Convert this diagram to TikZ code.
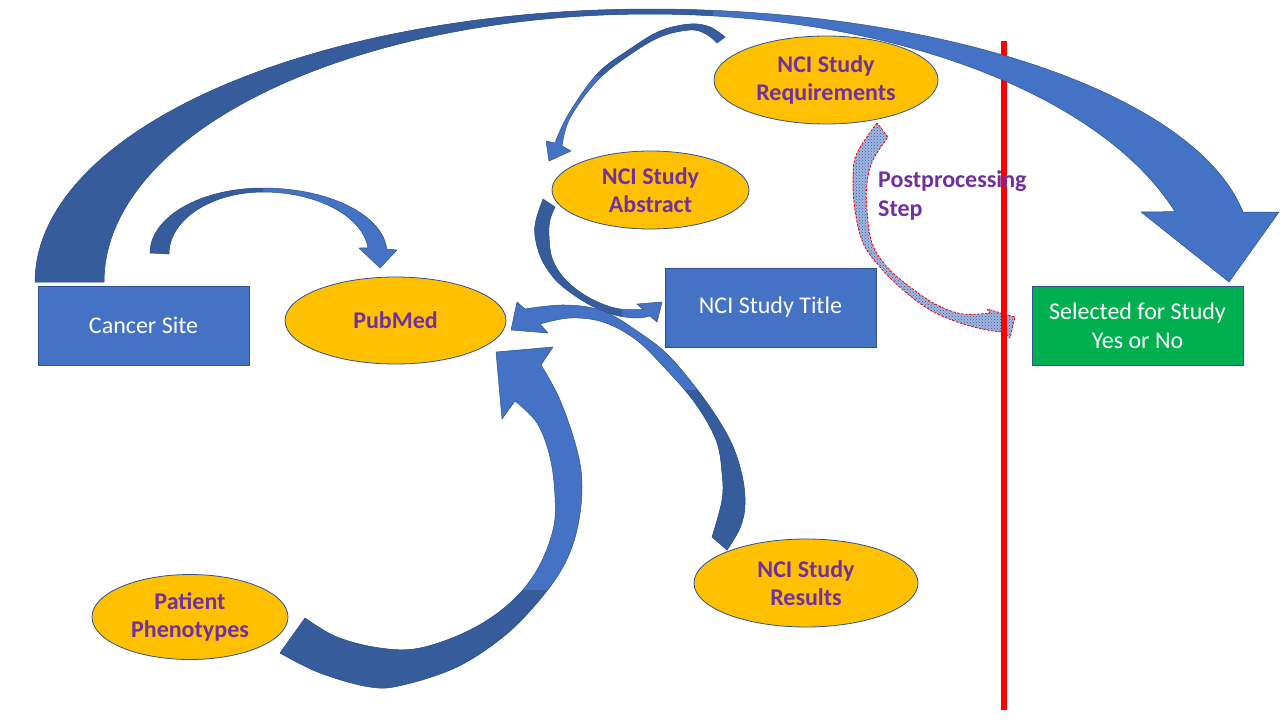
\documentclass[tikz,border=0pt]{standalone}
\usepackage{fontspec}
\setmainfont{Carlito}
\usetikzlibrary{shapes.geometric,patterns}
\definecolor{cLight}{HTML}{4472C4}
\definecolor{cDark}{HTML}{365C9C}
\definecolor{cEdge}{HTML}{2F528F}
\definecolor{cGold}{HTML}{FFC000}
\definecolor{cPurple}{HTML}{7030A0}
\definecolor{cGreen}{HTML}{00B050}
\definecolor{cRed}{HTML}{FF0000}
\newcommand{\twotone}[2]{%
  \fill[cLight] #1;
  \begin{scope}\clip #2; \fill[cDark] #1; \end{scope}
  \draw[cEdge, line width=0.5pt, line join=round] #1;
}
\begin{document}
\begin{tikzpicture}[x=1pt,y=-1pt,
  ell/.style={ellipse, draw=cEdge, line width=0.8pt, fill=cGold, inner sep=-6pt,
    text=cPurple, font=\fontsize{24}{28.5}\selectfont\bfseries, align=center},
  box/.style={rectangle, draw=cEdge, line width=0.8pt, fill=cLight, inner sep=0pt,
    text=white, font=\fontsize{24}{29}\selectfont, align=center,
    minimum width=211pt, minimum height=79pt},
  ppstyle/.style={preaction={fill=cLight!50}, pattern=crosshatch dots, pattern color=cLight!80!black,
    draw=cRed, line width=0.8pt, dash pattern=on 2.5pt off 1.5pt, line join=round},
  redline/.style={cRed, line width=5.5pt}]
\useasboundingbox (0,0) rectangle (1280,720);
\fill[white] (0,0) rectangle (1280,720);

% Cancer Site -> PubMed
\twotone{(150,253) -- plot[domain=180:270,samples=30,variable=\t] ({263+113*cos(\t)},{253+65*sin(\t)}) -- plot[domain=270:356.5,samples=30,variable=\t] ({263+124*cos(\t)},{253+65*sin(\t)}) -- (397,250) -- (380,268) -- (359,248) -- plot[domain=0:84.4,samples=30,variable=\t] ({263+105.5*cos(354.4-\t)},{254+62*sin(354.4-\t)}) -- plot[domain=0:90,samples=30,variable=\t] ({263+94*cos(270-\t)},{254+62*sin(270-\t)}) -- cycle}{(0,0) rectangle (263,720)}

% Requirements -> Abstract
\twotone{(725,37) -- plot[smooth,tension=0.6] coordinates {(725,37) (710,27) (690,24) (660,31) (630,49) (597,74) (568,115) (555,143)} -- (546,141) -- (549,161) -- (571,151) -- plot[smooth,tension=0.6] coordinates {(562,146) (570,118) (597,81) (628,56) (660,37) (690,30) (706,34) (717,43)} -- cycle}{(0,0) rectangle (1280,75)}

% Abstract -> Title
\twotone{(543,199) -- plot[smooth,tension=0.6] coordinates {(543,199) (536,220) (535,236) (541,258) (553,277) (567,290) (590,305) (615,315) (637,318) (650,316)} -- (657,322) -- (662,302) -- (637,304) -- plot[smooth,tension=0.6] coordinates {(643,309.5) (620,309) (600,303) (580,292) (563,277) (552,258) (549,236) (550,220) (555,207)} -- cycle}{(0,0) rectangle (622,720)}

% Results -> PubMed
\twotone{(727,550) -- plot[smooth,tension=0.6] coordinates {(727,550) (740,528) (745,505) (742,475) (730,440) (705,400) (670,357) (640,333) (603,311) (565,305) (525,309)} -- (517,302) -- (511,330) -- (548,333) -- plot[smooth,tension=0.6] coordinates {(540,324) (570,318) (603,322) (635,339) (663,366) (695,403) (716,440) (722,473) (722,500) (712,537)} -- cycle}{(0,390) rectangle (1280,720)}

% Patient Phenotypes -> PubMed
\twotone{(280,653) -- plot[smooth,tension=0.6] coordinates {(280,653) (320,673) (370,687) (403,685) (457,667) (503,637) (537,603) (563,567) (577,530) (582,487) (577,450) (560,400) (541,365)} -- (553,347) -- (496,352) -- (502,419) -- plot[smooth,tension=0.6] coordinates {(515,401) (537,423) (550,457) (555,497) (553,530) (537,570) (510,603) (470,630) (420,648) (380,648) (337,637) (305,618)} -- cycle}{(0,590) rectangle (1280,720)}

% Postprocessing arrow
\path[ppstyle] (877,123) -- plot[smooth,tension=0.6] coordinates {(877,123) (857,153) (853,177) (855,210) (863,243) (880,267) (903,290) (930,310) (960,323) (987,330) (1004,332)} -- (1010,338) -- (1015,317) -- (987,309) -- plot[smooth,tension=0.6] coordinates {(990,313) (963,314) (937,305) (910,287) (887,267) (872,243) (867,210) (867,183) (873,160) (888,137)} -- cycle;

% red divider
\coordinate (rtop) at (1004,41);
\coordinate (rbot) at (1004,710);
\draw[redline] (rtop) -- (rbot);

% big arrow: Cancer Site -> Selected
\twotone{(35,282) -- plot[domain=180:270,samples=60,variable=\t] ({650+615*cos(\t)},{282+273*sin(\t)}) -- plot[domain=270:350.93,samples=60,variable=\t] ({650+600.5*cos(\t)},{250+241*sin(\t)}) -- (1279,212) -- (1229,282) -- (1141,212) -- plot[domain=0:72,samples=60,variable=\t] ({650+552*cos(342-\t)},{300+286*sin(342-\t)}) -- plot[domain=0:90,samples=60,variable=\t] ({650+546*cos(270-\t)},{282+268*sin(270-\t)}) -- cycle}{(0,0) rectangle (713,720)}

% nodes
\node[box] (cancer) at (143.5,325.5) {Cancer Site};
\node[box] (title) at (770.5,307.5) {NCI Study Title};
\node[box, fill=cGreen] (sel) at (1137.5,325.5) {Selected for Study\\Yes or No};
\node[ell, minimum width=221pt, minimum height=87pt] (pubmed) at (395.5,320.5) {PubMed};
\node[ell, minimum width=224pt, minimum height=88pt] (req) at (826,80) {NCI Study\\Requirements};
\node[ell, minimum width=197pt, minimum height=78pt] (abs) at (650.5,190) {NCI Study\\Abstract};
\node[ell, minimum width=224pt, minimum height=88pt] (res) at (806,583) {NCI Study\\Results};
\node[ell, minimum width=196pt, minimum height=85pt] (pat) at (190,617) {Patient\\Phenotypes};

\node[anchor=west, inner sep=0pt, text=cPurple, font=\fontsize{24}{29}\selectfont\bfseries, align=left] (pp) at (878,195.5) {Postprocessing\\Step};
\end{tikzpicture}
\end{document}
